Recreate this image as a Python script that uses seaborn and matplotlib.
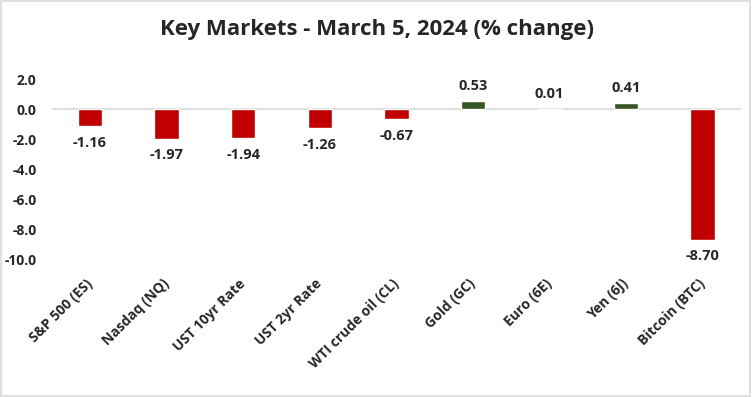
import matplotlib
matplotlib.use("Agg")
import matplotlib.pyplot as plt
import seaborn as sns
import pandas as pd
from matplotlib.patches import Rectangle

# data
markets = ['S&P 500 (ES)', 'Nasdaq (NQ)', 'UST 10yr Rate', 'UST 2yr Rate',
           'WTI crude oil (CL)', 'Gold (GC)', 'Euro (6E)', 'Yen (6J)', 'Bitcoin (BTC)']
changes = [-1.16, -1.97, -1.94, -1.26, -0.67, 0.53, 0.01, 0.41, -8.70]
y_ticks = [2.0, 0.0, -2.0, -4.0, -6.0, -8.0, -10.0]

df = pd.DataFrame({'market': markets, 'change': changes})
df['sign'] = ['neg' if v < 0 else 'pos' for v in df['change']]

sns.set_style('white')
plt.rcParams['font.family'] = ['Open Sans', 'DejaVu Sans']

fig = plt.figure(figsize=(7.55, 3.97), dpi=100)
ax = fig.add_axes([0.0685, 0.3476, 0.913, 0.4534])

sns.barplot(data=df, x='market', y='change', hue='sign',
            palette={'neg': '#C00000', 'pos': '#375623'}, saturation=1,
            width=0.32, dodge=False, legend=False, ax=ax)

ax.set_ylim(-10, 2)
ax.set_yticks(y_ticks)
ax.set_yticklabels([f'{t:.1f}' for t in y_ticks], fontsize=10, fontweight='bold')
ax.axhline(0, color='#D9D9D9', lw=1.2, zorder=0)
for s in ax.spines.values():
    s.set_visible(False)
ax.tick_params(axis='y', length=0, pad=11)
ax.tick_params(axis='x', length=0, pad=16)
ax.set_xlabel('')
ax.set_ylabel('')

for lbl in ax.get_xticklabels():
    lbl.set_rotation(45)
    lbl.set_ha('right')
    lbl.set_va('center')
    lbl.set_rotation_mode('anchor')
    lbl.set_fontweight('bold')
    lbl.set_fontsize(10)

# value labels
for i, v in enumerate(changes):
    off = -12 if v < 0 else 11
    ax.annotate(f'{v:.2f}', xy=(i, v), xytext=(0, off), textcoords='offset points',
                ha='center', va='center', fontsize=10.5, fontweight='bold',
                annotation_clip=False)

fig.suptitle('Key Markets - March 5, 2024 (% change)', x=0.5, y=0.952,
             fontsize=16, fontweight='bold')

# outer border like the source chart
fig.patches.append(Rectangle((1 / 755, 1 / 397), 749 / 755, 1 - 2 / 397,
                             transform=fig.transFigure, fill=False,
                             edgecolor='#D9D9D9', lw=1.2))

fig.savefig('out.png', dpi=100)
